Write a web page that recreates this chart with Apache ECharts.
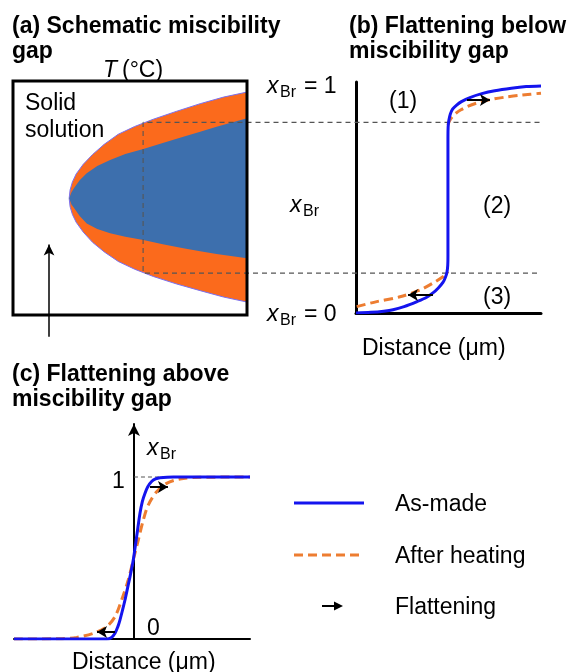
<!DOCTYPE html>
<html>
<head>
<meta charset="utf-8">
<script src="https://cdn.jsdelivr.net/npm/echarts@6/dist/echarts.min.js"></script>
<style>
    html, body { margin: 0; padding: 0; background: #fff; }
    #myEchart { width: 571px; height: 672px; }
</style>
</head>
<body>
<div id="myEchart"></div>
<script>
// (a) miscibility gap boundaries, x = T (arbitrary), y = xBr
var gapOuterTop = [[0.240, 0.503], [0.244, 0.540], [0.254, 0.575], [0.270, 0.610], [0.300, 0.652], [0.340, 0.695], [0.390, 0.740], [0.450, 0.784], [0.520, 0.818], [0.600, 0.850], [0.700, 0.885], [0.800, 0.918], [0.900, 0.947], [1.000, 0.969]];
var gapOuterBottom = [[0.240, 0.503], [0.244, 0.466], [0.254, 0.432], [0.270, 0.398], [0.300, 0.355], [0.340, 0.310], [0.390, 0.268], [0.450, 0.226], [0.520, 0.192], [0.600, 0.160], [0.700, 0.127], [0.800, 0.098], [0.900, 0.070], [1.000, 0.048]];
var gapInnerTop = [[0.240, 0.503], [0.250, 0.530], [0.261, 0.548], [0.285, 0.582], [0.315, 0.613], [0.360, 0.645], [0.415, 0.671], [0.480, 0.697], [0.557, 0.719], [0.640, 0.746], [0.728, 0.773], [0.800, 0.795], [0.870, 0.817], [1.000, 0.854]];
var gapInnerBottom = [[0.240, 0.503], [0.250, 0.476], [0.261, 0.460], [0.285, 0.425], [0.315, 0.393], [0.360, 0.368], [0.415, 0.350], [0.480, 0.334], [0.557, 0.320], [0.640, 0.302], [0.728, 0.284], [0.800, 0.271], [0.870, 0.259], [1.000, 0.240]];
var tieLine = [[2.25, 0.836], [0.556, 0.836], [0.556, 0.175], [2.25, 0.175]];
var tempArrow = [[[0.154, -0.104], [0.154, 0.300]]];

// (b) below the gap, x = distance (0..1), y = xBr
var bAsMade = [[0, 0], [0.08, 0.003], [0.15, 0.008], [0.2, 0.014], [0.26, 0.028], [0.33, 0.05], [0.38, 0.068], [0.416, 0.088], [0.445, 0.11], [0.47, 0.134], [0.484, 0.158], [0.492, 0.18], [0.496, 0.21], [0.497, 0.25], [0.497, 0.77], [0.498, 0.815], [0.502, 0.845], [0.51, 0.873], [0.523, 0.895], [0.544, 0.912], [0.57, 0.927], [0.616, 0.945], [0.68, 0.962], [0.75, 0.975], [0.84, 0.986], [0.92, 0.993], [1, 0.996]];
var bHeatedLow = [[0.004, 0.028], [0.112, 0.05], [0.238, 0.071], [0.346, 0.101], [0.416, 0.131], [0.47, 0.159], [0.485, 0.17], [0.497, 0.182]];
var bHeatedHigh = [[0.497, 0.825], [0.505, 0.842], [0.52, 0.86], [0.54, 0.876], [0.565, 0.89], [0.6, 0.905], [0.65, 0.92], [0.72, 0.935], [0.8, 0.946], [0.9, 0.956], [1, 0.964]];
var bArrows = [[[0.6, 0.934], [0.724, 0.934]], [[0.416, 0.079], [0.281, 0.079]]];

// (c) above the gap, x = distance (0 at interface), y = xBr
var cAsMade = [[-1, 0], [-0.228, 0], [-0.19, 0.008], [-0.158, 0.036], [-0.135, 0.075], [-0.117, 0.117], [-0.095, 0.18], [-0.075, 0.241], [-0.052, 0.32], [-0.033, 0.385], [-0.006, 0.488], [0.022, 0.631], [0.05, 0.776], [0.07, 0.85], [0.092, 0.9], [0.115, 0.94], [0.147, 0.972], [0.18, 0.988], [0.217, 0.995], [0.328, 1], [0.967, 1]];
var cHeated = [[-1, 0], [-0.6, 0.002], [-0.478, 0.01], [-0.339, 0.035], [-0.228, 0.076], [-0.158, 0.138], [-0.103, 0.241], [-0.048, 0.364], [-0.006, 0.488], [0.036, 0.611], [0.078, 0.735], [0.119, 0.827], [0.189, 0.909], [0.272, 0.961], [0.383, 0.988], [0.55, 0.998], [0.967, 1]];
var cLevel = [[0, 1], [0.26, 1]];
var cArrows = [[[0.133, 0.938], [0.283, 0.938]], [[-0.158, 0.043], [-0.308, 0.043]]];

// layout (px). Grid a reaches into panel b so the tie lines and the T arrow fit inside it
var BOX_A = {left: 13, top: 81, width: 234, height: 234};
var PA = {left: 13, top: 81, width: 528, height: 256};
var PB = {left: 356, top: 82, width: 185, height: 231};
var PC = {left: 14, top: 424, width: 236, height: 215};
var PX_XBR = 228;   // px per xBr unit in panels a and b (xBr = 0 at y = 313)

var BLUE = '#1414ee', ORANGE = '#ed7d31', GAP_ORANGE = '#fb6a1c', GAP_BLUE = '#3d6fad';
var FONT = '"Liberation Sans", Arial, sans-serif';

var chartPaper = echarts.init(document.getElementById('myEchart'), null, {renderer: 'canvas'});

function polygonSeries(upper, lower, fill, stroke) {
    return {
        type: 'custom', xAxisIndex: 0, yAxisIndex: 0, silent: true, animation: false,
        data: [[0, 0]],
        renderItem: function (params, api) {
            var pts = upper.concat(lower.slice().reverse()).map(function (p) {
                return api.coord(p);
            });
            return {type: 'polygon', shape: {points: pts}, style: {fill: fill, stroke: stroke, lineWidth: stroke ? 1 : 0}};
        }
    };
}

function arrowMarks(list, width, size) {
    return {
        silent: true, animation: false,
        symbol: ['none', 'arrow'], symbolSize: size || [9, 10],
        lineStyle: {color: '#000', width: width, type: 'solid'},
        label: {show: false},
        emphasis: {disabled: true},
        data: list.map(function (a) {
            return [{coord: a[0]}, {coord: a[1]}];
        })
    };
}

function curve(idx, data, color, dashed, marks) {
    var s = {
        type: 'line', xAxisIndex: idx, yAxisIndex: idx,
        data: data, showSymbol: false, smooth: 0.3, silent: true, animation: false,
        lineStyle: {color: color, width: 3, type: dashed ? [9, 5] : 'solid'}
    };
    if (marks) s.markLine = marks;
    return s;
}

function txt(x, y, s, font, align) {
    return {type: 'text', x: x, y: y + 2, silent: true,
        style: {text: s, font: font || ('23px ' + FONT), fill: '#000', align: align || 'left', verticalAlign: 'middle'}};
}

// x_Br label, optional suffix like "= 1"
function xBr(x, y, suffix) {
    var out = [
        txt(x, y, 'x', 'italic 23px ' + FONT),
        txt(x + 13, y + 6, 'Br', '16px ' + FONT)
    ];
    if (suffix) out.push(txt(x + 37, y, suffix));
    return out;
}

var TITLE = 'bold 23px ' + FONT;
var graphics = [
    {type: 'rect', z: 100, silent: true, shape: {x: BOX_A.left, y: BOX_A.top, width: BOX_A.width, height: BOX_A.height},
        style: {fill: 'none', stroke: '#000', lineWidth: 3}},
    txt(12, 25, '(a) Schematic miscibility', TITLE),
    txt(12, 50, 'gap', TITLE),
    txt(349, 25, '(b) Flattening below', TITLE),
    txt(349, 50, 'miscibility gap', TITLE),
    txt(12, 373, '(c) Flattening above', TITLE),
    txt(12, 398, 'miscibility gap', TITLE),
    txt(103, 69, 'T', 'italic 23px ' + FONT),
    txt(122, 69, '(°C)'),
    txt(25, 102, 'Solid'),
    txt(25, 129, 'solution'),
    txt(176, 195, 'Gap'),
    txt(389, 100, '(1)'),
    txt(483, 205, '(2)'),
    txt(483, 296, '(3)'),
    txt(362, 347, 'Distance (μm)'),
    txt(112, 480, '1'),
    txt(147, 627, '0'),
    txt(72, 661, 'Distance (μm)'),
    // legend
    {type: 'line', silent: true, shape: {x1: 294, y1: 503, x2: 364, y2: 503}, style: {stroke: BLUE, lineWidth: 3}},
    {type: 'line', silent: true, shape: {x1: 294, y1: 555, x2: 364, y2: 555}, style: {stroke: ORANGE, lineWidth: 3, lineDash: [9, 5]}},
    {type: 'line', silent: true, shape: {x1: 322, y1: 606, x2: 335, y2: 606}, style: {stroke: '#000', lineWidth: 2}},
    {type: 'polygon', silent: true, shape: {points: [[334, 601.5], [343, 606], [334, 610.5]]}, style: {fill: '#000'}},
    txt(395, 503, 'As-made'),
    txt(395, 555, 'After heating'),
    txt(395, 606, 'Flattening')
].concat(xBr(267, 85, '= 1'), xBr(290, 204), xBr(267, 313, '= 0'), xBr(147, 447));

var hiddenAxis = {show: false};
var blackLine = function (w, sym) {
    var l = {show: true, onZero: true, lineStyle: {color: '#000', width: w}};
    if (sym) {
        l.symbol = ['none', 'arrow'];
        l.symbolSize = [9, 12];
    }
    return l;
};

var option = {
    backgroundColor: '#fff',
    animation: false,
    grid: [
        {left: PA.left, top: PA.top, width: PA.width, height: PA.height},
        {left: PB.left, top: PB.top, width: PB.width, height: PB.height},
        {left: PC.left, top: PC.top, width: PC.width, height: PC.height}
    ],
    xAxis: [
        {type: 'value', gridIndex: 0, min: 0, max: PA.width / BOX_A.width, show: false},
        {type: 'value', gridIndex: 1, min: 0, max: 1, axisLine: blackLine(3), axisTick: hiddenAxis, axisLabel: hiddenAxis, splitLine: hiddenAxis},
        {type: 'value', gridIndex: 2, min: -1, max: 0.967, axisLine: blackLine(2), axisTick: hiddenAxis, axisLabel: hiddenAxis, splitLine: hiddenAxis}
    ],
    yAxis: [
        {type: 'value', gridIndex: 0, min: -(PA.top + PA.height - 313) / PX_XBR, max: (313 - PA.top) / PX_XBR, show: false},
        {type: 'value', gridIndex: 1, min: 0, max: PB.height / PX_XBR, axisLine: blackLine(3), axisTick: hiddenAxis, axisLabel: hiddenAxis, splitLine: hiddenAxis},
        {type: 'value', gridIndex: 2, min: 0, max: 215 / 162, axisLine: blackLine(2, true), axisTick: hiddenAxis, axisLabel: hiddenAxis, splitLine: hiddenAxis}
    ],
    graphic: graphics,
    series: [
        polygonSeries(gapOuterTop, gapOuterBottom, GAP_ORANGE, '#7a70f0'),
        polygonSeries(gapInnerTop, gapInnerBottom, GAP_BLUE, null),
        {
            type: 'line', xAxisIndex: 0, yAxisIndex: 0, data: tieLine, showSymbol: false,
            silent: true, animation: false, z: 3,
            lineStyle: {color: '#555', width: 1.1, type: [5, 4]},
            markLine: arrowMarks(tempArrow, 1.5, [8, 11])
        },
        curve(1, bHeatedLow, ORANGE, true),
        curve(1, bHeatedHigh, ORANGE, true),
        curve(1, bAsMade, BLUE, false, arrowMarks(bArrows, 2)),
        {
            type: 'line', xAxisIndex: 2, yAxisIndex: 2, data: cLevel, showSymbol: false,
            silent: true, animation: false,
            lineStyle: {color: '#555', width: 1, type: [4, 3]}
        },
        curve(2, cHeated, ORANGE, true),
        curve(2, cAsMade, BLUE, false, arrowMarks(cArrows, 2))
    ]
};

chartPaper.setOption(option);
</script>
</body>
</html>
